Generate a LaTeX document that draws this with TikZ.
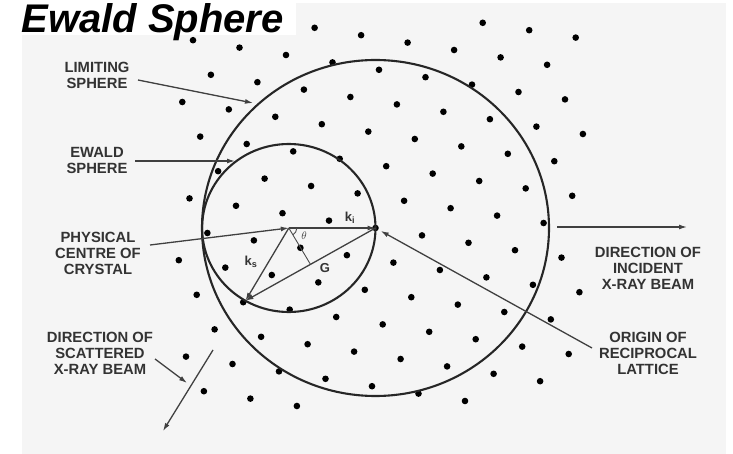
\documentclass[tikz,border=0pt]{standalone}
\usepackage{fontspec}
\setmainfont{Liberation Sans}
\usetikzlibrary{arrows.meta,calc}

\tikzset{
  lbl/.style={font=\bfseries\fontsize{14.8}{16}\selectfont, text=black!80, align=center, inner sep=0pt},
  vec/.style={font=\bfseries\fontsize{13}{15}\selectfont, text=black!80, inner sep=0pt},
  sphere/.style={line width=2.1pt, draw=black!85},
  ptr/.style={-{Latex[length=8pt,width=5pt]}, line width=1.3pt, draw=black!75},
  thin line/.style={line width=0.9pt, draw=black!70},
}

\begin{document}
\begin{tikzpicture}[x=1pt,y=-1pt]
    \useasboundingbox (0,0) rectangle (733,454);
    % scanned page
    \fill[black!4] (22,3) rectangle (726,454);
    % reciprocal lattice
    \foreach \j/\imin/\imax in {-7/5/7,-6/1/6,-5/-2/6,-4/-2/6,-3/-3/5,-2/-3/5,-1/-3/4,
        0/-4/4,1/-4/4,2/-5/3,3/-5/3,4/-5/2,5/-6/0,6/-6/-4}
      \foreach \i in {\imin,...,\imax}
        \fill ({375.5+46.5*\i+17.9*\j},{228+7.4*\i+34.6*\j}) circle (3.3pt);
    % title
    \fill[white] (0,0) rectangle (296,35);
    \node[font=\bfseries\itshape\fontsize{40}{40}\selectfont, anchor=base east, inner sep=0pt] (title) at (284,33) {Ewald Sphere};
    % centres and scattering point
    \coordinate (O) at (375.5,228);
    \coordinate (C) at (288.8,228);
    \coordinate (P) at ($(C)+({86.7*cos(120)},{84*sin(120)})$);
    \coordinate (M) at ($(O)!0.5!(P)$);
    % spheres
    \draw[sphere] (O) ellipse (173.5 and 168);
    \draw[sphere] (C) ellipse (86.7 and 84);
    % wave vectors
    \draw[ptr] (C) -- (O);
    \draw[ptr] (C) -- (P);
    \draw[ptr] (O) -- (P);
    \draw[thin line] (C) -- (M);
    \draw[thin line] ($(C)+(8,0)$) arc[start angle=0,end angle=-59,radius=8pt];
    \node[vec] (ki) at (350,218) {k\textsubscript{i}};
    \node[vec] (ks) at (251,262) {k\textsubscript{s}};
    \node[vec] (G) at (325,268) {G};
    \node[font=\fontsize{11}{11}\selectfont, text=black!75, inner sep=0pt] (th) at (304,236) {$\theta$};
    % labels, left
    \node[lbl] (lim) at (97,75) {LIMITING\\SPHERE};
    \node[lbl] (ewd) at (97,160) {EWALD\\SPHERE};
    \node[lbl] (phy) at (98,253) {PHYSICAL\\CENTRE OF\\CRYSTAL};
    \node[lbl] (sca) at (100,353) {DIRECTION OF\\SCATTERED\\X-RAY BEAM};
    % labels, right
    \node[lbl] (inc) at (648,268) {DIRECTION OF\\INCIDENT\\X-RAY BEAM};
    \node[lbl] (ori) at (648,353) {ORIGIN OF\\RECIPROCAL\\LATTICE};
    % pointer ends
    \coordinate (lim0) at (138,80);   \coordinate (lim1) at (253,103);
    \coordinate (ewd0) at (135,161);  \coordinate (ewd1) at (235,161);
    \coordinate (phy0) at (150,245);
    \coordinate (sca0) at (155,359);  \coordinate (sca1) at (187,383);
    \coordinate (ori0) at (592,348);
    \coordinate (inc0) at (557,227);  \coordinate (inc1) at (687,227);
    \coordinate (out0) at (213,350);  \coordinate (out1) at (163,431);
    % pointers
    \draw[ptr] (lim0) -- (lim1);
    \draw[ptr] (ewd0) -- (ewd1);
    \draw[ptr] (phy0) -- (C);
    \draw[ptr] (sca0) -- (sca1);
    \draw[ptr, shorten >=6pt] (ori0) -- (O);
    % beams
    \draw[ptr] (inc0) -- (inc1);
    \draw[ptr] (out0) -- (out1);
\end{tikzpicture}
\end{document}
